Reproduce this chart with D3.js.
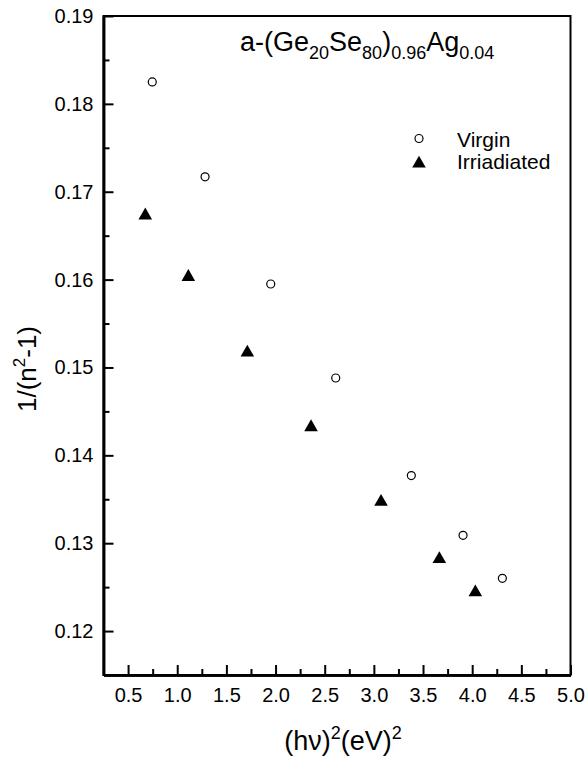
<!DOCTYPE html>
<html>
<head>
<meta charset="utf-8">
<script src="https://cdn.jsdelivr.net/npm/d3@7"></script>
<style>
  body { margin: 0; background: #fff; }
  svg { font-family: "Liberation Sans", Arial, sans-serif; }
</style>
</head>
<body>
<svg width="588" height="761"></svg>
<script>
const svg = d3.select('svg');

// data
const virginX = [0.746, 1.283, 1.951, 2.612, 3.381, 3.907, 4.307];
const virginY = [0.1825, 0.1717, 0.1595, 0.1488, 0.1377, 0.1309, 0.1260];
const irradX = [0.675, 1.113, 1.713, 2.361, 3.073, 3.666, 4.032];
const irradY = [0.1673, 0.1603, 0.1517, 0.1432, 0.1347, 0.1282, 0.1244];

const xTicks = [0.5, 1.0, 1.5, 2.0, 2.5, 3.0, 3.5, 4.0, 4.5, 5.0];
const xMinor = [0.75, 1.25, 1.75, 2.25, 2.75, 3.25, 3.75, 4.25, 4.75];
const yTicks = [0.12, 0.13, 0.14, 0.15, 0.16, 0.17, 0.18, 0.19];
const yMinor = [0.125, 0.135, 0.145, 0.155, 0.165, 0.175, 0.185];

const seriesNames = ['Virgin', 'Irriadiated'];

const margin = {top: 16, left: 103.5, right: 17.5, bottom: 86};
const width = +svg.attr('width');
const height = +svg.attr('height');
const innerWidth = width - margin.left - margin.right;
const innerHeight = height - margin.top - margin.bottom;

const xScale = d3.scaleLinear().domain([0.25, 5.0]).range([0, innerWidth]);
const yScale = d3.scaleLinear().domain([0.115, 0.19]).range([innerHeight, 0]);

const g = svg.append('g')
    .attr('transform', `translate(${margin.left},${margin.top})`);

// frame
g.append('rect')
    .attr('x', 0).attr('y', 0)
    .attr('width', innerWidth).attr('height', innerHeight)
    .attr('fill', 'none').attr('stroke', '#000').attr('stroke-width', 2);

// y axis (ticks point inward)
g.append('g').call(d3.axisLeft(yScale)
    .tickValues(yTicks).tickSize(-10).tickSizeOuter(0).tickPadding(10)
    .tickFormat(d3.format('.2f')));
const yMinorG = g.append('g').call(d3.axisLeft(yScale)
    .tickValues(yMinor).tickSize(-6).tickSizeOuter(0));
yMinorG.selectAll('text').remove();

// x axis
g.append('g')
    .attr('transform', `translate(0,${innerHeight})`)
    .call(d3.axisBottom(xScale)
        .tickValues(xTicks).tickSize(-10).tickSizeOuter(0).tickPadding(13)
        .tickFormat(d3.format('.1f')));
const xMinorG = g.append('g')
    .attr('transform', `translate(0,${innerHeight})`)
    .call(d3.axisBottom(xScale).tickValues(xMinor).tickSize(-6).tickSizeOuter(0));
xMinorG.selectAll('text').remove();

g.selectAll('.domain').attr('stroke', '#000').attr('stroke-width', 2.5);
g.selectAll('.tick line').attr('stroke', '#000').attr('stroke-width', 2);
g.selectAll('.tick text').attr('font-size', 20).attr('fill', '#000')
    .attr('font-family', '"Liberation Sans", Arial, sans-serif');

// markers
const tri = d3.symbol().type(d3.symbolTriangle).size(80);

g.selectAll('circle.virgin').data(virginX)
  .enter().append('circle')
    .attr('class', 'virgin')
    .attr('cx', d => xScale(d))
    .attr('cy', (d, i) => yScale(virginY[i]))
    .attr('r', 4)
    .attr('fill', '#fff').attr('stroke', '#000').attr('stroke-width', 1.2);

g.selectAll('path.irrad').data(irradX)
  .enter().append('path')
    .attr('class', 'irrad')
    .attr('d', tri)
    .attr('transform', (d, i) => `translate(${xScale(d)},${yScale(irradY[i])})`)
    .attr('fill', '#000');

// legend
const legend = svg.append('g').attr('font-size', 21);
legend.append('circle')
    .attr('cx', 419).attr('cy', 138.5).attr('r', 4)
    .attr('fill', '#fff').attr('stroke', '#000').attr('stroke-width', 1.2);
legend.append('path')
    .attr('d', tri)
    .attr('transform', 'translate(419,163.5)')
    .attr('fill', '#000');
legend.append('text').attr('x', 457).attr('y', 146.5).text(seriesNames[0]);
legend.append('text').attr('x', 457).attr('y', 168.5).text(seriesNames[1]);

// title
const title = svg.append('text')
    .attr('x', 240).attr('y', 51)
    .attr('font-size', 27);
title.append('tspan').text('a-(Ge');
title.append('tspan').attr('font-size', 18).attr('dy', 8).text('20');
title.append('tspan').attr('dy', -8).text('Se');
title.append('tspan').attr('font-size', 18).attr('dy', 8).text('80');
title.append('tspan').attr('dy', -8).text(')');
title.append('tspan').attr('font-size', 18).attr('dy', 8).text('0.96');
title.append('tspan').attr('dy', -8).text('Ag');
title.append('tspan').attr('font-size', 18).attr('dy', 8).text('0.04');

// axis labels
const xLabel = svg.append('text')
    .attr('x', margin.left + innerWidth / 2 + 6).attr('y', 750)
    .attr('text-anchor', 'middle')
    .attr('font-size', 27);
xLabel.append('tspan').text('(hν)');
xLabel.append('tspan').attr('font-size', 18).attr('dy', -11).text('2');
xLabel.append('tspan').attr('dy', 11).text('(eV)');
xLabel.append('tspan').attr('font-size', 18).attr('dy', -11).text('2');

const yLabel = svg.append('text')
    .attr('transform', 'translate(36,369) rotate(-90)')
    .attr('text-anchor', 'middle')
    .attr('font-size', 26);
yLabel.append('tspan').text('1/(n');
yLabel.append('tspan').attr('font-size', 17).attr('dy', -11).text('2');
yLabel.append('tspan').attr('dy', 11).text('-1)');
</script>
</body>
</html>
